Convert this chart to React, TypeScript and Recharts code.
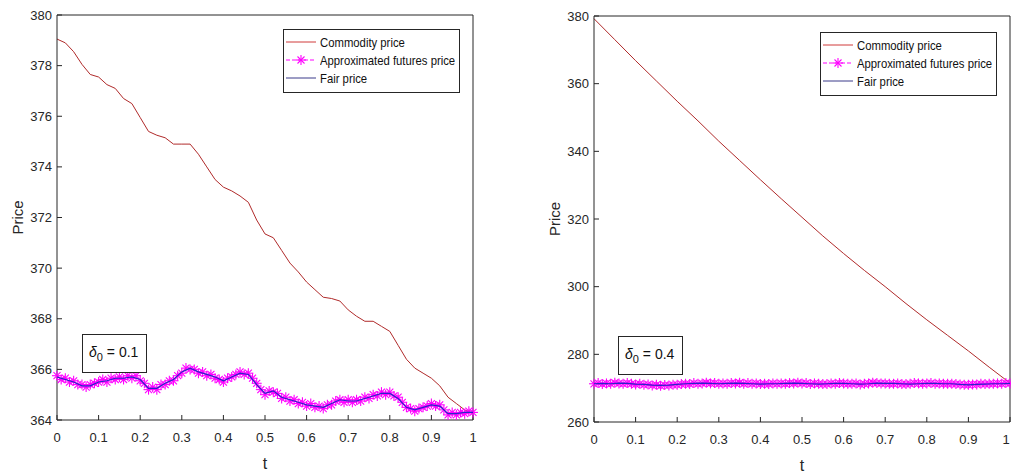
import React from 'react';
import { LineChart, Line, XAxis, YAxis, Label } from 'recharts';

const FONT = "'Liberation Sans', Arial, sans-serif";
const INK = '#262626';
const RED = '#b02a2a';
const MAGENTA = '#ff00ff';
const BLUE = '#2626c8';

const tFine = [
  0, 0.02, 0.04, 0.06, 0.08, 0.1, 0.12, 0.14, 0.16, 0.18,
  0.2, 0.22, 0.24, 0.26, 0.28, 0.3, 0.32, 0.34, 0.36, 0.38,
  0.4, 0.42, 0.44, 0.46, 0.48, 0.5, 0.52, 0.54, 0.56, 0.58,
  0.6, 0.62, 0.64, 0.66, 0.68, 0.7, 0.72, 0.74, 0.76, 0.78,
  0.8, 0.82, 0.84, 0.86, 0.88, 0.9, 0.92, 0.94, 0.96, 0.98, 1,
];
const tMarker = [
  0, 0.01, 0.02, 0.03, 0.04, 0.05, 0.06, 0.07, 0.08, 0.09,
  0.1, 0.11, 0.12, 0.13, 0.14, 0.15, 0.16, 0.17, 0.18, 0.19,
  0.2, 0.21, 0.22, 0.23, 0.24, 0.25, 0.26, 0.27, 0.28, 0.29,
  0.3, 0.31, 0.32, 0.33, 0.34, 0.35, 0.36, 0.37, 0.38, 0.39,
  0.4, 0.41, 0.42, 0.43, 0.44, 0.45, 0.46, 0.47, 0.48, 0.49,
  0.5, 0.51, 0.52, 0.53, 0.54, 0.55, 0.56, 0.57, 0.58, 0.59,
  0.6, 0.61, 0.62, 0.63, 0.64, 0.65, 0.66, 0.67, 0.68, 0.69,
  0.7, 0.71, 0.72, 0.73, 0.74, 0.75, 0.76, 0.77, 0.78, 0.79,
  0.8, 0.81, 0.82, 0.83, 0.84, 0.85, 0.86, 0.87, 0.88, 0.89,
  0.9, 0.91, 0.92, 0.93, 0.94, 0.95, 0.96, 0.97, 0.98, 0.99, 1,
];
const tCoarse = [
  0, 0.05, 0.1, 0.15, 0.2, 0.25, 0.3, 0.35, 0.4, 0.45, 0.5,
  0.55, 0.6, 0.65, 0.7, 0.75, 0.8, 0.85, 0.9, 0.95, 1,
];
const tTicks = [0, 0.1, 0.2, 0.3, 0.4, 0.5, 0.6, 0.7, 0.8, 0.9, 1];
const leftPriceTicks = [364, 366, 368, 370, 372, 374, 376, 378, 380];
const rightPriceTicks = [260, 280, 300, 320, 340, 360, 380];

const seriesNames = ['Commodity price', 'Approximated futures price', 'Fair price'];

// left panel, delta_0 = 0.1
const commodityLeft = [
  379.05, 378.9, 378.55, 378.05, 377.65, 377.55, 377.25, 377.1, 376.7, 376.5,
  375.95, 375.4, 375.25, 375.15, 374.9, 374.9, 374.9, 374.5, 374.0, 373.5,
  373.2, 373.05, 372.85, 372.6, 371.9, 371.35, 371.2, 370.7, 370.2, 369.85,
  369.45, 369.15, 368.85, 368.8, 368.7, 368.35, 368.1, 367.9, 367.9, 367.7,
  367.5, 366.95, 366.4, 366.05, 365.85, 365.65, 365.35, 364.9, 364.65, 364.4,
  364.25,
];
const fairLeft = [
  365.7, 365.6, 365.5, 365.35, 365.35, 365.5, 365.55, 365.65, 365.65, 365.7,
  365.6, 365.25, 365.25, 365.45, 365.6, 365.9, 366.05, 365.9, 365.8, 365.7,
  365.55, 365.7, 365.85, 365.8, 365.4, 365.05, 365.15, 364.9, 364.8, 364.7,
  364.6, 364.55, 364.5, 364.65, 364.8, 364.75, 364.75, 364.85, 364.95, 365.05,
  365.05, 364.85, 364.5, 364.4, 364.5, 364.6, 364.55, 364.25, 364.25, 364.3,
  364.3,
];
const approxLeft = [
  365.75, 365.6, 365.65, 365.5, 365.55, 365.4, 365.4, 365.3, 365.4, 365.45,
  365.5, 365.6, 365.5, 365.65, 365.6, 365.7, 365.6, 365.75, 365.65, 365.75,
  365.55, 365.45, 365.2, 365.3, 365.2, 365.4, 365.4, 365.55, 365.55, 365.75,
  365.85, 366.05, 366.0, 366.0, 365.85, 365.9, 365.75, 365.8, 365.65, 365.6,
  365.5, 365.65, 365.7, 365.8, 365.9, 365.8, 365.85, 365.65, 365.45, 365.2,
  365.0, 365.15, 365.1, 365.05, 364.85, 364.9, 364.75, 364.8, 364.65, 364.7,
  364.55, 364.65, 364.5, 364.55, 364.45, 364.6, 364.6, 364.75, 364.8, 364.7,
  364.8, 364.7, 364.8, 364.75, 364.9, 364.85, 365.0, 364.95, 365.1, 365.0,
  365.1, 364.95, 364.9, 364.7, 364.5, 364.45, 364.35, 364.45, 364.5, 364.55,
  364.65, 364.55, 364.6, 364.4, 364.2, 364.3, 364.2, 364.3, 364.25, 364.35,
  364.3,
];

// right panel, delta_0 = 0.4
const commodityRight = [
  379.2, 373.0, 366.8, 360.8, 354.8, 349.0, 343.0, 337.3, 331.6, 326.0, 320.5,
  315.0, 309.8, 304.8, 300.0, 295.0, 290.2, 285.6, 281.0, 276.2, 271.5,
];
const fairRight = [
  271.3, 271.4, 271.3, 271.5, 271.4, 271.2, 271.1, 270.9, 270.8, 270.9,
  271.1, 271.3, 271.4, 271.5, 271.4, 271.3, 271.4, 271.5, 271.4, 271.3,
  271.2, 271.3, 271.3, 271.4, 271.5, 271.4, 271.3, 271.2, 271.3, 271.4,
  271.4, 271.3, 271.2, 271.3, 271.5, 271.4, 271.4, 271.3, 271.2, 271.3,
  271.4, 271.4, 271.3, 271.3, 271.1, 271.0, 271.1, 271.2, 271.3, 271.3,
  271.4,
];
const approxRight = [
  271.3, 271.5, 271.2, 271.4, 271.3, 271.6, 271.4, 271.3, 271.5, 271.3,
  271.1, 271.3, 271.0, 271.1, 270.8, 271.0, 270.7, 270.9, 270.8, 271.0,
  271.0, 271.2, 271.3, 271.2, 271.5, 271.3, 271.4, 271.6, 271.4, 271.5,
  271.3, 271.4, 271.3, 271.5, 271.4, 271.6, 271.3, 271.5, 271.3, 271.4,
  271.2, 271.3, 271.2, 271.4, 271.3, 271.4, 271.3, 271.5, 271.4, 271.6,
  271.4, 271.5, 271.2, 271.4, 271.3, 271.2, 271.2, 271.4, 271.3, 271.5,
  271.4, 271.3, 271.3, 271.4, 271.1, 271.3, 271.4, 271.6, 271.5, 271.4,
  271.4, 271.3, 271.3, 271.4, 271.2, 271.2, 271.3, 271.5, 271.4, 271.3,
  271.4, 271.5, 271.3, 271.4, 271.3, 271.3, 271.3, 271.2, 271.1, 271.0,
  271.0, 271.1, 271.1, 271.3, 271.2, 271.3, 271.3, 271.4, 271.3, 271.5,
  271.4,
];

const toRows = (ts: number[], vs: number[]) => ts.map((t, i) => ({ t, v: vs[i] }));

const renderStar = (p: any) => {
  const { cx, cy, index } = p;
  if (cx == null || cy == null) return <g key={`s${index}`} />;
  const r = 5;
  const d = r * 0.7;
  return (
    <g key={`s${index}`} stroke={MAGENTA} strokeWidth={1.1}>
      <line x1={cx - r} y1={cy} x2={cx + r} y2={cy} />
      <line x1={cx} y1={cy - r} x2={cx} y2={cy + r} />
      <line x1={cx - d} y1={cy - d} x2={cx + d} y2={cy + d} />
      <line x1={cx - d} y1={cy + d} x2={cx + d} y2={cy - d} />
    </g>
  );
};

const tickStyle = { fill: INK, fontSize: 13, fontFamily: FONT };

// x tick labels; the last one is nudged in when it sits on the page edge
const makeXTick = (edgeNudge: number) => (p: any) => {
  const dx = p.payload.value === 1 ? edgeNudge : 0;
  return (
    <text x={p.x + dx} y={p.y} dy="0.71em" textAnchor="middle" fill={INK} fontSize={13} fontFamily={FONT}>
      {String(p.payload.value)}
    </text>
  );
};

function LegendBox({ left, top }: { left: number; top: number }) {
  const samples = [
    <line key="a" x1={2} y1={9} x2={32} y2={9} stroke="#d03a3a" strokeWidth={1} />,
    <g key="b">
      <line x1={2} y1={9} x2={32} y2={9} stroke={MAGENTA} strokeWidth={1} strokeDasharray="4 2" />
      {renderStar({ cx: 17, cy: 9, index: 'lg' })}
    </g>,
    <line key="c" x1={2} y1={9} x2={32} y2={9} stroke="#3b3b8a" strokeWidth={1} />,
  ];
  return (
    <div
      style={{
        position: 'absolute', left, top, width: 177, height: 64, boxSizing: 'border-box',
        border: `1px solid ${INK}`, background: '#fff', fontFamily: FONT, fontSize: 13,
        color: '#111', paddingTop: 3,
      }}
    >
      {seriesNames.map((name, i) => (
        <div key={name} style={{ display: 'flex', alignItems: 'center', height: 18 }}>
          <svg width={35} height={18} style={{ flex: 'none' }}>{samples[i]}</svg>
          <span
            style={{
              display: 'inline-block', marginLeft: 1, whiteSpace: 'nowrap',
              transform: 'scaleX(0.87)', transformOrigin: 'left center',
            }}
          >
            {name}
          </span>
        </div>
      ))}
    </div>
  );
}

function NoteBox({ left, top, value }: { left: number; top: number; value: string }) {
  return (
    <div
      style={{
        position: 'absolute', left, top, width: 65, height: 39, boxSizing: 'border-box',
        border: `1px solid ${INK}`, background: '#fff', fontFamily: FONT, fontSize: 14,
        color: '#111', paddingLeft: 6, paddingTop: 9, whiteSpace: 'nowrap',
      }}
    >
      <i>δ</i>
      <sub style={{ fontSize: 11 }}>0</sub> = {value}
    </div>
  );
}

type Row = { t: number; v: number };
type Margin = { top: number; right: number; bottom: number; left: number };

interface ChartProps {
  width: number;
  margin: Margin;
  yTicks: number[];
  edgeNudge?: number;
  overlay?: boolean;
  children: React.ReactNode;
}

// one set of axes; the overlay copy keeps the same geometry but draws no axes
function PriceChart({ width, margin, yTicks, edgeNudge = 0, overlay, children }: ChartProps) {
  const domain = [yTicks[0], yTicks[yTicks.length - 1]];
  const ink = overlay ? 'none' : INK;
  return (
    <LineChart width={width} height={476} margin={margin} style={{ position: 'absolute', left: 0, top: 0 }}>
      <XAxis
        xAxisId="b" type="number" dataKey="t" domain={[0, 1]} ticks={tTicks}
        height={30} tickSize={-5} tickMargin={18}
        stroke={ink} tick={overlay ? false : makeXTick(edgeNudge)} interval={0}
      >
        {!overlay && (
          <Label
            content={({ viewBox }: any) => (
              <text x={viewBox.x + viewBox.width / 2} y={viewBox.y + 49} textAnchor="middle"
                fontSize={16} fontFamily={FONT} fill={INK}>t</text>
            )}
          />
        )}
      </XAxis>
      <XAxis
        xAxisId="top" orientation="top" type="number" dataKey="t" domain={[0, 1]} ticks={tTicks}
        height={1} tick={false} tickSize={-5} stroke={ink} interval={0}
      />
      <YAxis
        yAxisId="l" type="number" domain={domain} ticks={yTicks} width={50} tickSize={-5}
        tickMargin={10} stroke={ink} tick={overlay ? false : tickStyle} interval={0}
      >
        {!overlay && (
          <Label
            content={({ viewBox }: any) => {
              const lx = viewBox.x + 16;
              const ly = viewBox.y + viewBox.height / 2;
              return (
                <text x={lx} y={ly} transform={`rotate(-90 ${lx} ${ly})`} textAnchor="middle"
                  fontSize={15} fontFamily={FONT} fill={INK}>Price</text>
              );
            }}
          />
        )}
      </YAxis>
      <YAxis
        yAxisId="r" orientation="right" type="number" domain={domain} ticks={yTicks} width={1}
        tick={false} tickSize={-5} stroke={ink} interval={0}
      />
      {children}
    </LineChart>
  );
}

interface PanelProps {
  x: number;
  width: number;
  margin: Margin;
  yTicks: number[];
  edgeNudge?: number;
  commodity: Row[];
  approx: Row[];
  fair: Row[];
  delta: string;
  legendPos: [number, number];
  notePos: [number, number];
}

function Panel({ x, width, margin, yTicks, edgeNudge, commodity, approx, fair, delta, legendPos, notePos }: PanelProps) {
  return (
    <div style={{ position: 'absolute', left: x, top: 0, width, height: 476 }}>
      <PriceChart width={width} margin={margin} yTicks={yTicks} edgeNudge={edgeNudge}>
        <Line xAxisId="b" yAxisId="l" data={commodity} dataKey="v" name={seriesNames[0]} stroke={RED}
          strokeWidth={1} dot={false} isAnimationActive={false} />
        <Line xAxisId="b" yAxisId="l" data={approx} dataKey="v" name={seriesNames[1]} stroke="none"
          strokeWidth={1} dot={renderStar} activeDot={false} isAnimationActive={false} />
      </PriceChart>
      {/* fair price is drawn over the markers, as in the original figure */}
      <PriceChart width={width} margin={margin} yTicks={yTicks} overlay>
        <Line xAxisId="b" yAxisId="l" data={fair} dataKey="v" name={seriesNames[2]} stroke={BLUE}
          strokeWidth={1.2} dot={false} isAnimationActive={false} />
      </PriceChart>
      <LegendBox left={legendPos[0]} top={legendPos[1]} />
      <NoteBox left={notePos[0]} top={notePos[1]} value={delta} />
    </div>
  );
}

export default function App() {
  return (
    <div style={{ position: 'absolute', left: 0, top: 0, width: 1011, height: 476, background: '#fff', overflow: 'hidden' }}>
      <Panel
        x={0}
        width={500}
        margin={{ top: 14, right: 26, bottom: 26, left: 7 }}
        yTicks={leftPriceTicks}
        commodity={toRows(tFine, commodityLeft)}
        approx={toRows(tMarker, approxLeft)}
        fair={toRows(tFine, fairLeft)}
        delta="0.1"
        legendPos={[283, 29]}
        notePos={[82, 334]}
      />
      <Panel
        x={510}
        width={501}
        margin={{ top: 15, right: 0, bottom: 24, left: 34 }}
        yTicks={rightPriceTicks}
        edgeNudge={-4}
        commodity={toRows(tCoarse, commodityRight)}
        approx={toRows(tMarker, approxRight)}
        fair={toRows(tFine, fairRight)}
        delta="0.4"
        legendPos={[310, 32]}
        notePos={[108, 336]}
      />
    </div>
  );
}
